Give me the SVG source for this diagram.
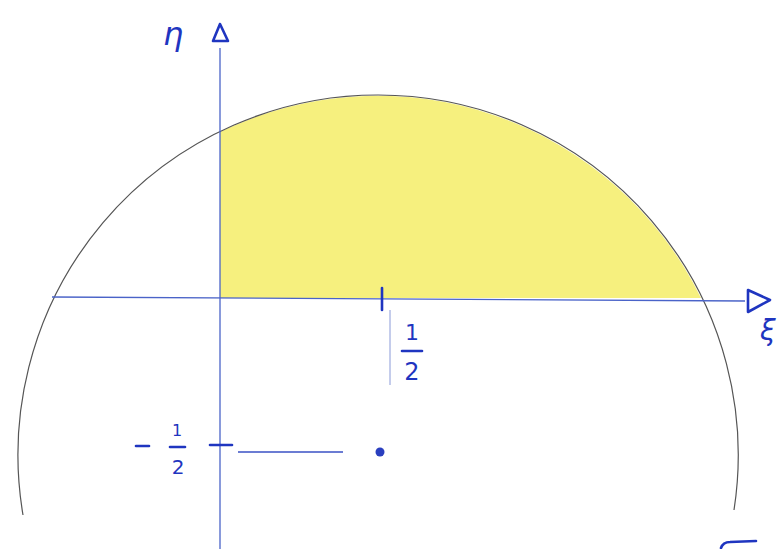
<svg xmlns="http://www.w3.org/2000/svg" width="782" height="549" viewBox="0 0 782 549">
<style>
.ax{stroke:#4a63c8;stroke-width:1.3;fill:none}
.ink{stroke:#1f35c0;stroke-width:2.6;fill:none;stroke-linecap:round;stroke-linejoin:round}
.t{fill:#1f35c0;font-family:"DejaVu Sans","Liberation Sans",sans-serif}
</style>
<rect width="782" height="549" fill="#ffffff"/>
<g id="region">
<path d="M 220 298 L 220 132 A 360 360 0 0 1 701 298 Z" fill="#f6f07e" stroke="none"/>
</g>
<g id="circle">
<path d="M 23 515 A 360 360 0 0 1 378 95 A 360 360 0 0 1 734 510" fill="none" stroke="#555" stroke-width="1.2"/>
</g>
<g id="connectors">
<line class="ax" x1="220" y1="48" x2="220" y2="549"/>
<line class="ax" x1="52" y1="297" x2="745" y2="301"/>
<path class="ink" d="M 220 24 L 213 41 L 228 41 Z"/>
<path class="ink" d="M 748 290 L 770 300 L 748 312 Z"/>
<line class="ink" x1="382" y1="288" x2="382" y2="310" stroke-width="2"/>
<line x1="390" y1="310" x2="390" y2="385" stroke="#8a9ad8" stroke-width="1"/>
<line class="ink" x1="210" y1="445" x2="232" y2="445" stroke-width="2"/>
<line x1="238" y1="452" x2="343" y2="452" stroke="#3a50c4" stroke-width="1.6"/>
<circle cx="380" cy="452" r="4.5" fill="#2a3fbf"/>
<path class="ink" d="M 721 548 Q 723 542 730 542 L 756 541"/>
</g>
<g id="labels">
<text class="t" x="163" y="45" font-size="32" font-style="italic">η</text>
<text class="t" x="760" y="340" font-size="28" font-style="italic">ξ</text>
<text class="t" x="412" y="340" font-size="22" text-anchor="middle">1</text>
<line class="ink" x1="402" y1="351" x2="422" y2="351" stroke-width="2.2"/>
<text class="t" x="412" y="380" font-size="24" text-anchor="middle">2</text>
<line class="ink" x1="136" y1="446" x2="149" y2="446" stroke-width="2.4"/>
<text class="t" x="177" y="436" font-size="16" text-anchor="middle">1</text>
<line class="ink" x1="170" y1="447" x2="185" y2="447" stroke-width="2.2"/>
<text class="t" x="178" y="474" font-size="20" text-anchor="middle">2</text>
</g>
</svg>
